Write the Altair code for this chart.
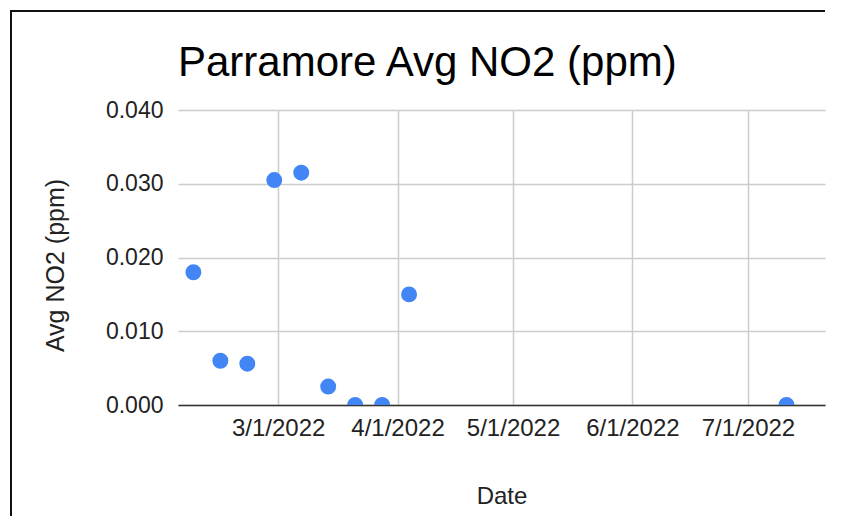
import altair as alt
import pandas as pd

dates = ["2022-02-07", "2022-02-14", "2022-02-21", "2022-02-28", "2022-03-07",
         "2022-03-14", "2022-03-21", "2022-03-28", "2022-04-04", "2022-07-11"]
no2 = [0.0180, 0.0060, 0.0056, 0.0305, 0.0315, 0.0025, 0.0000, 0.0000, 0.0150, 0.0000]
x_ticks = [(2022, 3, 1), (2022, 4, 1), (2022, 5, 1), (2022, 6, 1), (2022, 7, 1)]
y_ticks = [0.0, 0.01, 0.02, 0.03, 0.04]
title_text = "Parramore Avg NO2 (ppm)"

df = pd.DataFrame({"Date": [d + "T00:00:00" for d in dates], "NO2": no2})
one = pd.DataFrame({"t": [title_text]})

FONT = "Liberation Sans"
W, H = 647, 295

points = alt.Chart(df).mark_circle(
    size=254, color="#4285F4", opacity=1, clip=True
).encode(
    x=alt.X(
        "Date:T",
        scale=alt.Scale(domain=[alt.DateTime(year=2022, month=2, date=3),
                                alt.DateTime(year=2022, month=7, date=21)]),
        axis=alt.Axis(
            values=[alt.DateTime(year=y, month=m, date=d) for y, m, d in x_ticks],
            format="%-m/%-d/%Y", labelFontSize=24, labelColor="#222222",
            labelPadding=11, ticks=False, domainColor="#333333", domainWidth=1.5,
            gridColor="#cccccc", gridWidth=1.5, title="Date", titleFontSize=24,
            titleFontWeight="normal", titleColor="#222222",
            titleX=W / 2, titleY=98, titleBaseline="alphabetic", labelFlush=False,
        ),
    ),
    y=alt.Y(
        "NO2:Q",
        scale=alt.Scale(domain=[0, 0.04], nice=False),
        axis=alt.Axis(
            values=y_ticks, format=".3f", labelFontSize=23, labelColor="#222222",
            labelPadding=15, ticks=False, domain=False, gridColor="#cccccc",
            gridWidth=1.5, title="Avg NO2 (ppm)", titleFontSize=25,
            titleFontWeight="normal", titleColor="#222222", titleAngle=-90,
            titleX=-123, titleY=155, titleBaseline="middle", titleAlign="center",
        ),
    ),
)

title = alt.Chart(one).mark_text(
    font=FONT, fontSize=42, color="#000000", align="left", baseline="alphabetic",
).encode(text="t:N", x=alt.value(0), y=alt.value(-34))

frame_top = alt.Chart(one).mark_rule(color="#111111", strokeWidth=2).encode(
    x=alt.value(-168), x2=alt.value(647), y=alt.value(-99)
)
frame_left = alt.Chart(one).mark_rule(color="#111111", strokeWidth=2).encode(
    x=alt.value(-167), y=alt.value(-100), y2=alt.value(406)
)

chart = alt.layer(points, title, frame_top, frame_left).properties(
    width=W, height=H,
    autosize=alt.AutoSizeParams(type="pad"),
    padding={"left": 1, "top": 1, "right": 0, "bottom": 0},
).configure(font=FONT).configure_view(stroke=None).configure_axis(
    labelFont=FONT, titleFont=FONT
)

chart.save("out.html", embed_options={"renderer": "svg", "actions": False})
